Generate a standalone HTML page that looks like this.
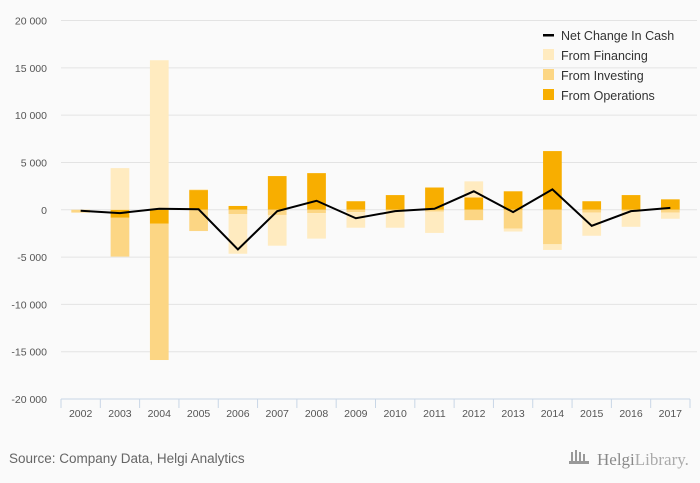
<!DOCTYPE html>
<html><head><meta charset="utf-8"><style>
body{margin:0;background:#fafafa;font-family:"Liberation Sans",sans-serif}
svg{display:block}
</style></head><body>
<svg width="700" height="483" xmlns="http://www.w3.org/2000/svg">
<rect width="700" height="483" fill="#fafafa"/>
<g id="grid"></g>
<g id="yticks"></g>
<g id="bars"></g>
<g id="line"></g>
<g id="xaxis"></g>
<g font-size="12.5" fill="#333">
 <g><rect x="543" y="34" width="11" height="2.5" fill="#000"/><text x="561" y="40">Net Change In Cash</text></g>
 <g><rect x="543" y="49" width="11" height="11" fill="#ffebc0"/><text x="561" y="60">From Financing</text></g>
 <g><rect x="543" y="69" width="11" height="11" fill="#fcd684"/><text x="561" y="80">From Investing</text></g>
 <g><rect x="543" y="89" width="11" height="11" fill="#f8ae00"/><text x="561" y="100">From Operations</text></g>
</g>
<text x="9" y="463" font-size="13.5" fill="#666">Source: Company Data, Helgi Analytics</text>
<g fill="#999">
 <rect x="571" y="452" width="2" height="9"/><rect x="575" y="450" width="2" height="11"/><rect x="579" y="452" width="2" height="9"/><rect x="583" y="454" width="2" height="7"/>
 <rect x="569" y="461" width="20" height="3"/>
 <text x="597" y="465" font-size="17" font-family="Liberation Serif,serif" fill="#888">Helgi<tspan fill="#aaa">Library.</tspan></text>
</g>
</svg>
<script>
const years=["2002","2003","2004","2005","2006","2007","2008","2009","2010","2011","2012","2013","2014","2015","2016","2017"];
const operations=[0,-850,-1480,2080,400,3560,3870,900,1550,2350,1300,1950,6200,900,1550,1100];
const investing=[-300,-4100,-14400,-2250,-450,-550,-350,-250,-100,-200,-1100,-2000,-3650,-300,-150,-300];
const financing=[0,4400,15800,100,-4200,-3250,-2700,-1650,-1800,-2250,1700,-300,-600,-2450,-1650,-650];
const netChange=[-100,-350,100,50,-4200,-150,950,-900,-150,100,1950,-250,2150,-1700,-150,200];
const yTicks=[20000,15000,10000,5000,0,-5000,-10000,-15000,-20000];
const NS="http://www.w3.org/2000/svg";
const L=61,R=690,T=20.5,B=399,ymin=-20000,ymax=20000;
const step=(R-L)/years.length;
const y=v=>T+(ymax-v)/(ymax-ymin)*(B-T);
const xc=i=>L+step*(i+0.5);
function mk(tag,attrs,parent){const e=document.createElementNS(NS,tag);for(const k in attrs)e.setAttribute(k,attrs[k]);parent.appendChild(e);return e;}
const grid=document.getElementById('grid'),yt=document.getElementById('yticks');
yTicks.forEach(v=>{
 if(v!==ymin){const g=mk('line',{x1:L,x2:697,y1:y(v),y2:y(v),stroke:'#e3e3e3','stroke-width':1},grid);
 
 }
 const t=mk('text',{x:47,y:y(v)+4,'text-anchor':'end','font-size':'10.5',fill:'#555'},yt);
 t.textContent=(v<0?'-':'')+Math.abs(v).toLocaleString('en-US').replace(/,/g,' ');
 
 
});
const bars=document.getElementById('bars');const bw=18.7;
years.forEach((yr,i)=>{
 let pos=0,neg=0;
 [[operations,'#f8ae00','bar-operations'],[investing,'#fcd684','bar-investing'],[financing,'#ffebc0','bar-financing']].forEach(([arr,c,n])=>{
  const v=arr[i];if(!v)return;let a,b;
  if(v>0){a=pos;b=pos+v;pos=b;}else{a=neg;b=neg+v;neg=b;}
  const r=mk('rect',{x:xc(i)-bw/2,width:bw,y:Math.min(y(a),y(b)),height:Math.abs(y(a)-y(b)),fill:c},bars);
  
  
 });
});
const pl=mk('polyline',{points:netChange.map((v,i)=>xc(i)+','+y(v)).join(' '),fill:'none',stroke:'#000','stroke-width':2},document.getElementById('line'));


const xa=document.getElementById('xaxis');
mk('line',{x1:L,x2:R,y1:B,y2:B,stroke:'#c8d6e6'},xa);
for(let i=0;i<=years.length;i++)mk('line',{x1:L+step*i,x2:L+step*i,y1:B,y2:B+9,stroke:'#c8d6e6'},xa);
years.forEach((yr,i)=>{const t=mk('text',{x:xc(i),y:B+18,'text-anchor':'middle','font-size':'10.5',fill:'#555'},xa);t.textContent=yr;
 
 });
</script>
</body></html>
